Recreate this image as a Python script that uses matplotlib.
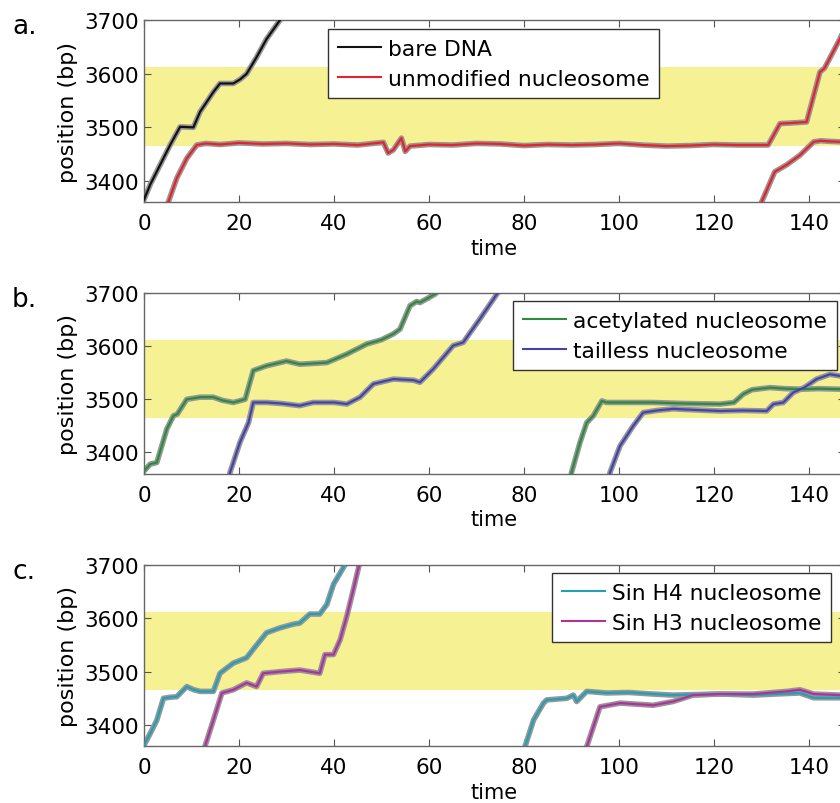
import matplotlib
matplotlib.use("Agg")
import matplotlib.pyplot as plt

# nucleosome footprint on the template (bp)
BAND_LO, BAND_HI = 3465, 3612

# --- panel a ---
bare_t = [0, 1.3, 3.4, 5.5, 7.6, 10.4, 11.8, 14.6, 16, 18.8, 20.3, 21.6, 23.7, 25.8, 28.6, 29.5]
bare_y = [3365, 3393, 3430, 3467, 3501, 3500, 3529, 3566, 3582, 3582, 3590, 3600, 3631, 3665, 3700, 3712]

unmod1_t = [4.8, 5.1, 6.9, 9, 11.1, 13, 16, 20, 25, 30, 35, 40, 45, 50.4, 51.4, 52.5, 54.2, 55, 56,
            60, 65, 70, 75, 80, 85, 90, 95, 100, 105, 110, 115, 120, 125, 131.4, 133.9, 136,
            139.5, 142.3, 143.3, 146.5, 147.5]
unmod1_y = [3355, 3360, 3405, 3442, 3467, 3470, 3468, 3471, 3469, 3470, 3468, 3469, 3467, 3472, 3452,
            3458, 3480, 3455, 3465, 3468, 3467, 3470, 3469, 3466, 3468, 3467, 3468, 3470, 3467,
            3465, 3466, 3468, 3467, 3467, 3507, 3508, 3510, 3603, 3611, 3665, 3685]
unmod2_t = [129.6, 130, 132.8, 135.3, 138.1, 141, 142.5, 144, 146.5, 147.5]
unmod2_y = [3350, 3360, 3417, 3430, 3448, 3473, 3475, 3474, 3473, 3472]

# --- panel b ---
acet1_t = [0, 1.3, 2.7, 4.8, 6.2, 7, 9, 11.8, 14.6, 16.5, 18.8, 21.3, 23, 25.8, 30, 32.8, 38.5,
           42.7, 46.9, 50, 52.5, 53.9, 56, 57.4, 58.1, 61.3, 63]
acet1_y = [3365, 3378, 3381, 3444, 3469, 3472, 3500, 3504, 3504, 3498, 3494, 3500, 3554, 3563, 3572,
           3566, 3569, 3585, 3604, 3612, 3623, 3632, 3676, 3684, 3682, 3698, 3715]
acet2_t = [89.8, 90, 91.8, 93.2, 94.6, 96.4, 97.4, 102, 107.2, 114, 121.3, 124.2, 126.2, 128,
           131.8, 135, 138.8, 142, 146.5, 147.5]
acet2_y = [3350, 3362, 3419, 3456, 3469, 3497, 3494, 3494, 3494, 3492, 3491, 3494, 3510, 3518,
           3522, 3520, 3519, 3520, 3519, 3519]

tail1_t = [17.9, 18.1, 20.2, 22, 23, 25.8, 29, 32.8, 35.6, 40.1, 42.7, 45.5, 48.3, 52.5, 56.7,
           58.1, 60.9, 65.1, 67.2, 70.7, 74.3, 75.5]
tail1_y = [3350, 3362, 3419, 3456, 3494, 3494, 3492, 3488, 3494, 3494, 3491, 3504, 3529, 3538,
           3536, 3532, 3557, 3601, 3607, 3651, 3698, 3712]
tail2_t = [97.9, 98.1, 100.2, 103, 105.1, 108, 111.4, 116, 121.3, 126, 131.1, 132.5, 134.6,
           136.7, 139, 141.6, 144.4, 146.5, 147.5]
tail2_y = [3350, 3362, 3412, 3450, 3475, 3479, 3482, 3480, 3478, 3479, 3478, 3491, 3494, 3513,
           3522, 3538, 3547, 3544, 3545]

# --- panel c ---
h4_1_t = [0, 1.3, 2.7, 4.1, 5.5, 6.9, 9, 10.5, 11.8, 14.6, 16, 18.8, 21.6, 23, 25.8, 28.6, 31.4,
          32.8, 34.9, 37, 38.5, 39.9, 42.3, 43]
h4_1_y = [3362, 3384, 3409, 3450, 3452, 3453, 3472, 3466, 3463, 3463, 3497, 3516, 3526, 3542,
          3573, 3582, 3589, 3591, 3608, 3608, 3626, 3664, 3700, 3710]
h4_2_t = [80, 80.2, 82, 84.1, 84.8, 89, 90.4, 91.1, 93.2, 97.4, 102, 107.2, 111.4, 116, 121.3,
          128.3, 133, 138.1, 141, 146.5, 147.5]
h4_2_y = [3350, 3359, 3409, 3441, 3447, 3450, 3456, 3444, 3463, 3460, 3461, 3458, 3456, 3457,
          3458, 3456, 3458, 3460, 3451, 3451, 3452]

h3_1_t = [12.5, 12.8, 14.6, 16.4, 18.8, 21.6, 23.7, 25.1, 28.6, 32.8, 37, 38.1, 39.9, 41.3,
          42.7, 44.1, 45.3, 46]
h3_1_y = [3345, 3359, 3409, 3460, 3466, 3479, 3472, 3497, 3500, 3503, 3497, 3532, 3532, 3560,
          3604, 3655, 3700, 3712]
h3_2_t = [93, 93.2, 96, 100.2, 107.2, 111.4, 115.6, 121.3, 128.3, 135.3, 138.1, 141, 146.5, 147.5]
h3_2_y = [3345, 3359, 3434, 3441, 3437, 3444, 3456, 3458, 3458, 3463, 3466, 3458, 3456, 3456]

panels = [
    ("a.", [("bare DNA", "#111111", [(bare_t, bare_y)]),
            ("unmodified nucleosome", "#e8222a", [(unmod1_t, unmod1_y), (unmod2_t, unmod2_y)])],
     (0.2626, 0.952)),
    ("b.", [("acetylated nucleosome", "#2b8c3c", [(acet1_t, acet1_y), (acet2_t, acet2_y)]),
            ("tailless nucleosome", "#4343ad", [(tail1_t, tail1_y), (tail2_t, tail2_y)])],
     (0.5267, 0.956)),
    ("c.", [("Sin H4 nucleosome", "#22a0b6", [(h4_1_t, h4_1_y), (h4_2_t, h4_2_y)]),
            ("Sin H3 nucleosome", "#b0309e", [(h3_1_t, h3_1_y), (h3_2_t, h3_2_y)])],
     (0.5824, 0.956)),
]

W, H = 840, 804
fig = plt.figure(figsize=(W / 100, H / 100), dpi=100)

# axes boxes in pixels: (top, bottom); the right spine sits just past the image edge
boxes = [(21.3, 203.3), (294.0, 474.7), (566.0, 747.3)]
left_px, right_px = 144.0, 844.6

for (tag, series, leg_anchor), (top, bot) in zip(panels, boxes):
    ax = fig.add_axes([left_px / W, 1 - bot / H, (right_px - left_px) / W, (bot - top) / H])
    ax.axhspan(BAND_LO, BAND_HI, color="#f6f193", lw=0, zorder=0)
    for label, color, segs in series:
        for i, (t, y) in enumerate(segs):
            # grey halo stands in for the raw trace behind the filtered one
            ax.plot(t, y, color="#969696", lw=4, solid_joinstyle="round", zorder=2)
            ax.plot(t, y, color=color, lw=1.6, zorder=3, label=label if i == 0 else None)
    ax.set_xlim(0, 147.5)
    ax.set_ylim(3360, 3700)
    ax.set_xticks(range(0, 160, 20))
    ax.set_yticks([3400, 3500, 3600, 3700])
    ax.tick_params(direction="in", length=5, width=0.8, color="#555555",
                   top=True, right=True, labelsize=15.5, pad=8)
    ax.tick_params(axis="y", pad=4)
    for sp in ax.spines.values():
        sp.set_color("#666666")
        sp.set_linewidth(1.0)
    ax.set_xlabel("time", fontsize=15, labelpad=3)
    ax.set_ylabel("position (bp)", fontsize=16, labelpad=4)
    leg = ax.legend(loc="upper left", bbox_to_anchor=leg_anchor, borderaxespad=0,
                    fontsize=15.7, frameon=True, fancybox=False, framealpha=1,
                    edgecolor="#333333", handlelength=2.0, handletextpad=0.3,
                    borderpad=0.45, labelspacing=0.45)
    leg.get_frame().set_linewidth(1.0)
    for ln in leg.get_lines():
        ln.set_linewidth(1.5)
    fig.text(12 / W, 1 - 14 / H - (top - 21.3) / H, tag, fontsize=19, va="top", ha="left")

fig.savefig("out.png", dpi=100)
